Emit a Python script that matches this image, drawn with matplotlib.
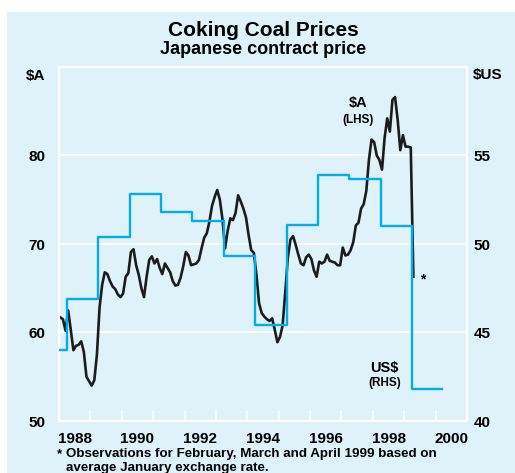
import matplotlib
matplotlib.use('Agg')
import matplotlib.pyplot as plt
import matplotlib.patches as patches
import numpy as np
import pandas as pd

# Colours / fonts
BG = '#dff2fa'
BLUE = '#00aeef'
BLACK = '#1c1c1c'
plt.rcParams['font.family'] = ['Liberation Sans', 'DejaVu Sans']
plt.rcParams['font.weight'] = 'bold'

# $A coking coal price, monthly Jan 1988 - Apr 1999 (LHS)
aud_price = [
    61.7, 61.5, 60.2, 62.5, 60.3, 58.0, 58.5, 58.6, 59.0, 57.8, 55.0, 54.5,
    54.0, 54.6, 57.5, 62.8, 65.4, 66.8, 66.6, 65.8, 65.2, 64.9, 64.3, 64.0,
    64.4, 66.3, 66.7, 69.1, 69.4, 67.6, 66.5, 65.0, 64.0, 66.3, 68.2, 68.6,
    67.8, 68.3, 67.3, 66.6, 67.8, 67.3, 66.8, 65.8, 65.3, 65.4, 66.2, 67.5,
    69.1, 68.7, 67.6, 67.7, 67.8, 68.2, 69.5, 70.7, 71.2, 72.5, 74.3, 75.3,
    76.1, 75.0, 72.8, 69.5, 71.5, 72.9, 72.7, 73.5, 75.5, 74.8, 74.0, 73.0,
    71.0, 69.3, 69.0, 66.5, 63.3, 62.2, 61.8, 61.5, 61.3, 61.6, 60.3, 58.9,
    59.5, 60.8, 64.5, 68.5, 70.5, 70.9, 69.9, 68.8, 67.8, 67.6, 68.5, 68.8,
    68.3, 67.0, 66.3, 68.0, 67.8, 68.0, 68.8, 68.1, 68.0, 67.9, 67.6, 67.6,
    69.6, 68.7, 68.8, 69.3, 70.2, 72.1, 72.4, 74.0, 74.5, 76.0, 79.5, 81.8,
    81.5, 80.0, 79.5, 78.4, 82.0, 84.2, 82.7, 86.3, 86.6, 84.0, 80.6, 82.3,
    81.0, 81.0, 80.9, 66.3,
]
aud_months = pd.date_range('1988-01-01', periods=len(aud_price), freq='MS')

# US$ contract price by Japanese fiscal year (April start) (RHS)
us_fy = list(range(1987, 2000))
us_price = [44.0, 46.9, 50.4, 52.8, 51.8, 51.3, 49.3, 45.4, 51.1, 53.9, 53.7, 51.0, 41.8]
us_end = pd.Timestamp('2000-03-01')

year_labels = ['1988', '1990', '1992', '1994', '1996', '1998', '2000']


def decimal_year(dates):
    # plot each month at its mid point
    return dates.year + (dates.month - 0.5) / 12.0


fig = plt.figure(figsize=(5.15, 4.73), dpi=100)
fig.patch.set_facecolor('white')
fig.add_artist(patches.Rectangle((7 / 515, 0), 1, (473 - 12) / 473,
                                 transform=fig.transFigure, facecolor=BG,
                                 edgecolor='none', zorder=0))

ax = fig.add_axes([59 / 515, 52 / 473, 408 / 515, 354 / 473])
ax.set_facecolor(BG)
ax2 = ax.twinx()

# $A line
x_aud = decimal_year(aud_months)
ax.plot(x_aud, aud_price, color=BLACK, linewidth=1.9, zorder=3)

# US$ step line
x_us = np.array(us_fy, dtype=float) + 0.25
x_us[0] = x_aud[0]
x_us = np.append(x_us, decimal_year(pd.DatetimeIndex([us_end]))[0])
y_us = np.append(us_price, us_price[-1])
ax2.step(x_us, y_us, where='post', color=BLUE, linewidth=1.7, zorder=3)

# axes limits / ticks
ax.set_xlim(1988, 2001)
ax.set_ylim(50, 90)
ax2.set_ylim(40, 60)

ax.set_yticks([50, 60, 70, 80])
ax.set_yticklabels(['50', '60', '70', '80'])
ax2.set_yticks([40, 45, 50, 55])
ax2.set_yticklabels(['40', '45', '50', '55'])
ax.tick_params(axis='y', length=0, pad=10, labelsize=11)
ax2.tick_params(axis='y', length=0, pad=5, labelsize=11)

ax.set_xticks(np.arange(1989, 2001))
ax.set_xticklabels([])
ax.set_xticks([int(y) + 0.5 for y in year_labels], minor=True)
ax.set_xticklabels(year_labels, minor=True)
ax.tick_params(axis='x', which='major', direction='in', length=7,
               width=1.3, color='white')
ax.tick_params(axis='x', which='minor', length=0, pad=8, labelsize=11)
ax.grid(axis='y', color='white', linewidth=1.3)
ax.set_axisbelow(True)

for a in (ax, ax2):
    for s in a.spines.values():
        s.set_color('white')
        s.set_linewidth(1.5)

# unit labels at the top of each axis
fig.text(45 / 515, 1 - 76 / 473, '$A', ha='right', va='center', fontsize=11)
fig.text(473 / 515, 1 - 75 / 473, '$US', ha='left', va='center', fontsize=11)

# titles
fig.text(0.511, 1 - 31 / 473, 'Coking Coal Prices', ha='center', va='center',
         fontsize=15)
fig.text(0.511, 1 - 49 / 473, 'Japanese contract price', ha='center',
         va='center', fontsize=13)

# series labels
ax.text(1997.52, 85.9, '$A', ha='center', va='center', fontsize=10.5)
ax.text(1997.52, 84.0, '(LHS)', ha='center', va='center', fontsize=8.5)
ax2.text(1998.38, 43.0, 'US$', ha='center', va='center', fontsize=10.5)
ax2.text(1998.38, 42.15, '(RHS)', ha='center', va='center', fontsize=8.5)
ax.text(1999.58, 66.0, '*', ha='center', va='center', fontsize=10)

# footnote
fig.text(57 / 515, 1 - 454 / 473, '*', ha='left', va='center', fontsize=9.5)
fig.text(66 / 515, 1 - 454 / 473,
         'Observations for February, March and April 1999 based on',
         ha='left', va='center', fontsize=9.6)
fig.text(66 / 515, 1 - 468 / 473, 'average January exchange rate.',
         ha='left', va='center', fontsize=9.6)

fig.savefig('out.png', dpi=100, facecolor=fig.get_facecolor())
